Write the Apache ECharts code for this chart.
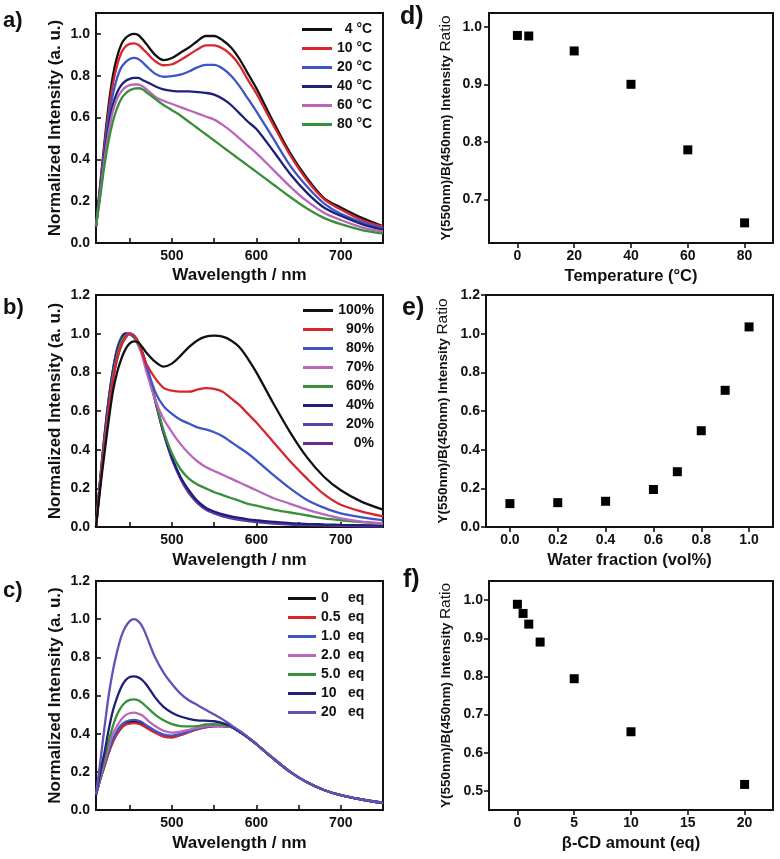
<!DOCTYPE html>
<html>
<head>
<meta charset="utf-8">
<script src="https://cdn.jsdelivr.net/npm/echarts@6/dist/echarts.min.js"></script>
<style>
html,body{margin:0;padding:0;background:#fff;}
#chart{width:780px;height:859px;}
</style>
</head>
<body>
<div id="chart"></div>
<script>
// ---------- data ----------
const wave = [410,415,420,425,430,435,440,445,450,455,460,465,470,480,490,500,510,520,530,540,550,560,570,580,590,600,620,640,660,680,700,725,750];

// panel a: temperature series
const tempNames = ['\u20074 \u00B0C','10 \u00B0C','20 \u00B0C','40 \u00B0C','60 \u00B0C','80 \u00B0C'];
const a4  = [.08,.28,.48,.66,.80,.89,.95,.98,.995,1.0,.995,.975,.95, .90,.875,.885,.91,.935,.965,.99,.99,.97,.935,.88,.81,.74, .58,.43,.31,.215,.17, .12,.08];
const a10 = [.08,.27,.46,.63,.76,.85,.91,.94,.952,.955,.948,.93,.91, .87,.85,.855,.875,.90,.925,.945,.945,.93,.90,.85,.78,.715, .565,.42,.30,.21,.16, .11,.078];
const a20 = [.08,.26,.44,.60,.71,.79,.84,.865,.88,.885,.88,.865,.845, .81,.795,.798,.805,.82,.84,.852,.852,.835,.80,.75,.69,.63, .50,.37,.27,.19,.14, .10,.07];
const a40 = [.08,.25,.42,.56,.66,.72,.755,.775,.785,.79,.79,.78,.77, .75,.735,.728,.725,.725,.722,.718,.71,.69,.66,.62,.58,.545, .44,.33,.24,.17,.13, .09,.062];
const a60 = [.08,.24,.40,.53,.63,.69,.725,.745,.755,.758,.758,.75,.735, .70,.68,.665,.65,.635,.62,.605,.59,.565,.535,.50,.465,.43, .35,.27,.20,.145,.11, .075,.055];
const a80 = [.08,.22,.37,.49,.58,.645,.69,.715,.73,.738,.74,.735,.72, .69,.66,.635,.61,.58,.55,.52,.49,.46,.43,.40,.37,.34, .28,.22,.165,.12,.09, .062,.045];

// panel b: water fraction series
const waterNames = ['100%','90%','80%','70%','60%','40%','20%','0%'];
const b100 = [0,.20,.38,.55,.70,.80,.87,.92,.95,.96,.955,.93,.90, .855,.83,.845,.885,.93,.965,.985,.99,.985,.965,.93,.87,.80, .64,.49,.36,.26,.19, .13,.09];
const b90  = [0,.22,.42,.60,.76,.87,.94,.98,1.0,.99,.96,.90,.84, .77,.72,.705,.70,.70,.71,.718,.715,.70,.665,.63,.585,.54, .44,.34,.25,.17,.115, .08,.055];
const b80  = [0,.22,.42,.60,.76,.87,.94,.98,1.0,.99,.955,.90,.83, .70,.625,.585,.555,.535,.515,.505,.49,.47,.44,.41,.38,.345, .27,.20,.14,.10,.07, .05,.035];
const b70  = [0,.22,.42,.60,.76,.87,.94,.98,1.0,.99,.95,.88,.80, .66,.56,.49,.43,.38,.34,.31,.29,.27,.25,.23,.21,.19, .15,.12,.09,.065,.045, .028,.018];
const b60  = [0,.23,.44,.62,.78,.89,.96,.99,1.0,.985,.94,.89,.82, .66,.50,.38,.30,.25,.22,.20,.18,.165,.15,.135,.12,.11, .09,.075,.06,.045,.035, .025,.018];
const b40  = [0,.24,.46,.65,.80,.91,.97,1.0,1.0,.985,.95,.90,.83, .66,.49,.36,.26,.19,.135,.10,.08,.065,.055,.047,.04,.035, .027,.02,.016,.013,.011, .009,.007];
const b20  = [0,.25,.47,.66,.81,.92,.98,1.0,.998,.983,.95,.90,.83, .66,.49,.355,.255,.18,.13,.095,.073,.058,.048,.04,.034,.029, .022,.016,.012,.01,.008, .006,.005];
const b0   = [0,.25,.47,.66,.81,.92,.98,1.0,.997,.98,.948,.898,.828, .655,.485,.35,.25,.175,.125,.09,.07,.055,.045,.037,.03,.025, .018,.013,.01,.008,.006, .004,.003];

// panel c: beta-CD series
const cdNames = ['0 eq','0.5 eq','1.0 eq','2.0 eq','5.0 eq','10 eq','20 eq'];
const c0   = [.08,.16,.23,.30,.36,.40,.43,.45,.46,.462,.46,.45,.435, .41,.39,.385,.395,.41,.425,.435,.44,.44,.435,.41,.38,.345, .27,.20,.145,.105,.078, .055,.037];
const c05  = [.08,.16,.23,.30,.355,.40,.43,.447,.453,.455,.452,.443,.43, .405,.385,.38,.392,.408,.423,.433,.44,.44,.435,.41,.38,.345, .27,.20,.145,.105,.078, .055,.037];
const c1   = [.08,.16,.24,.31,.37,.415,.445,.462,.47,.472,.468,.458,.443, .415,.395,.39,.398,.412,.425,.435,.44,.44,.435,.41,.38,.345, .27,.20,.145,.105,.078, .055,.037];
const c2   = [.08,.17,.25,.33,.40,.44,.475,.497,.507,.51,.505,.495,.475, .44,.415,.405,.41,.42,.43,.44,.442,.44,.435,.41,.38,.345, .27,.20,.145,.105,.078, .055,.037];
const c5   = [.08,.18,.27,.36,.44,.50,.54,.565,.577,.58,.575,.56,.54, .50,.47,.45,.44,.438,.44,.448,.45,.445,.435,.41,.38,.345, .27,.20,.145,.105,.078, .055,.037];
const c10  = [.08,.20,.30,.42,.52,.59,.645,.68,.697,.70,.695,.68,.655, .59,.54,.51,.49,.478,.47,.468,.465,.455,.44,.41,.38,.345, .27,.20,.145,.105,.078, .055,.037];
const c20  = [.08,.25,.43,.60,.73,.83,.91,.96,.99,1.0,.99,.96,.91, .80,.72,.66,.61,.575,.55,.525,.50,.475,.445,.415,.382,.345, .27,.20,.145,.105,.078, .055,.037];

// panels d, e, f: ratios
const tempX = [0,4,20,40,60,80];
const tempRatio = [0.985,0.984,0.958,0.900,0.786,0.659];
const waterX = [0,0.2,0.4,0.6,0.7,0.8,0.9,1.0];
const waterRatio = [0.121,0.126,0.133,0.194,0.286,0.498,0.707,1.035];
const cdX = [0,0.5,1,2,5,10,20];
const cdRatio = [0.989,0.965,0.937,0.890,0.794,0.655,0.517];

// tick values
const specTicks = [450,500,550,600,650,700];
const specLabels = [500,600,700];
const aYTicks = [0,0.2,0.4,0.6,0.8,1.0];
const bcYTicks = [0,0.2,0.4,0.6,0.8,1.0,1.2];
const dXTicks = [0,20,40,60,80];
const dYTicks = [0.7,0.8,0.9,1.0];
const eXTicks = [0,0.2,0.4,0.6,0.8,1.0];
const fXTicks = [0,5,10,15,20];
const fYTicks = [0.5,0.6,0.7,0.8,0.9,1.0];

// ---------- styling ----------
const FONT = "'Liberation Sans', Arial, sans-serif";
const C = {black:'#111111', red:'#d9262c', blue:'#3d55c6', navy:'#1e2078', pink:'#bb66bb', green:'#3a8f3a', violet:'#5b40b4', purple:'#6a2c8e', lav:'#6650b8'};

const grids = [
  {left:96, top:13, width:287, height:230},
  {left:96, top:295, width:287, height:232},
  {left:96, top:581, width:287, height:229},
  {left:489, top:13, width:284, height:230},
  {left:486, top:295, width:287, height:232},
  {left:489, top:581, width:284, height:229}
].map(g => Object.assign({show:true, borderColor:'#111', borderWidth:2, backgroundColor:'transparent'}, g));

const lblStyle = {color:'#111', fontFamily:FONT, fontWeight:'bold', fontSize:14};
const nameStyleA = {color:'#111', fontFamily:FONT, fontWeight:'bold', fontSize:17};
const nameStyleD = {color:'#111', fontFamily:FONT, fontWeight:'bold', fontSize:16.5};

function xAx(idx, min, max, ticks, labels, name, inside, fmt, nameGap, nameStyle) {
  return {
    type:'value', gridIndex:idx, min, max, name, nameLocation:'middle', nameGap,
    nameTextStyle:nameStyle,
    axisLine:{show:false, onZero:false}, splitLine:{show:false},
    axisTick:{show:true, inside, length:5, customValues:ticks, lineStyle:{color:'#111', width:1.6}},
    axisLabel:Object.assign({customValues:labels, margin:6, formatter:fmt}, lblStyle)
  };
}
function yAx(idx, min, max, ticks, name, inside, fmt, nameGap, nameStyle, margin) {
  return {
    type:'value', gridIndex:idx, min, max, name, nameLocation:'middle', nameGap, nameRotate:90,
    nameTextStyle:nameStyle,
    axisLine:{show:false, onZero:false}, splitLine:{show:false},
    axisTick:{show:true, inside, length:5, customValues:ticks, lineStyle:{color:'#111', width:1.6}},
    axisLabel:Object.assign({customValues:ticks, margin, formatter:fmt}, lblStyle)
  };
}
const f1 = v => Number(v).toFixed(1);
const f0 = v => String(Math.round(v));

const ratioName = '{b|Y(550nm)/B(450nm) Intensity }{r|Ratio}';
const ratioStyle = {color:'#111', rich:{
  b:{fontFamily:FONT, fontWeight:'bold', fontSize:13.5, color:'#111'},
  r:{fontFamily:FONT, fontWeight:'normal', fontSize:15.5, color:'#111'}
}};

const xAxes = [
  xAx(0, 410, 750, specTicks, specLabels, 'Wavelength / nm', true, f0, 24, nameStyleA),
  xAx(1, 410, 750, specTicks, specLabels, 'Wavelength / nm', true, f0, 25, nameStyleA),
  xAx(2, 410, 750, specTicks, specLabels, 'Wavelength / nm', true, f0, 25, nameStyleA),
  xAx(3, -10, 90, dXTicks, dXTicks, 'Temperature (\u00B0C)', false, f0, 25, nameStyleD),
  xAx(4, -0.1, 1.1, eXTicks, eXTicks, 'Water fraction (vol%)', false, f1, 25, nameStyleD),
  xAx(5, -2.5, 22.5, fXTicks, fXTicks, '\u03B2-CD amount (eq)', false, f0, 25, nameStyleD)
];
const yAxes = [
  yAx(0, 0, 1.1, aYTicks, 'Normalized Intensity (a. u.)', true, f1, 32, nameStyleA, 6),
  yAx(1, 0, 1.2, bcYTicks, 'Normalized Intensity (a. u.)', true, f1, 32, nameStyleA, 6),
  yAx(2, 0, 1.2, bcYTicks, 'Normalized Intensity (a. u.)', true, f1, 32, nameStyleA, 6),
  yAx(3, 0.624, 1.024, dYTicks, ratioName, false, f1, 35, ratioStyle, 7),
  yAx(4, 0, 1.2, bcYTicks, ratioName, false, f1, 35, ratioStyle, 6),
  yAx(5, 0.45, 1.05, fYTicks, ratioName, false, f1, 35, ratioStyle, 6)
];

function line(name, vals, color, idx) {
  return {
    type:'line', name, xAxisIndex:idx, yAxisIndex:idx,
    data: wave.map((w,i) => [w, vals[i]]),
    showSymbol:false, symbol:'none', smooth:0.3, animation:false,
    lineStyle:{width:2.3, color}, itemStyle:{color}
  };
}
function scatter(xs, ys, idx) {
  return {
    type:'scatter', xAxisIndex:idx, yAxisIndex:idx, animation:false,
    data: xs.map((x,i) => [x, ys[i]]),
    symbol:'rect', symbolSize:9, itemStyle:{color:'#000', opacity:1}
  };
}

const series = [
  line(tempNames[0], a4, C.black, 0),
  line(tempNames[1], a10, C.red, 0),
  line(tempNames[2], a20, C.blue, 0),
  line(tempNames[3], a40, C.navy, 0),
  line(tempNames[4], a60, C.pink, 0),
  line(tempNames[5], a80, C.green, 0),

  line(waterNames[7], b0, C.purple, 1),
  line(waterNames[6], b20, C.violet, 1),
  line(waterNames[5], b40, C.navy, 1),
  line(waterNames[4], b60, C.green, 1),
  line(waterNames[3], b70, C.pink, 1),
  line(waterNames[2], b80, C.blue, 1),
  line(waterNames[1], b90, C.red, 1),
  line(waterNames[0], b100, C.black, 1),

  line(cdNames[0], c0, C.black, 2),
  line(cdNames[1], c05, C.red, 2),
  line(cdNames[2], c1, C.blue, 2),
  line(cdNames[3], c2, C.pink, 2),
  line(cdNames[4], c5, C.green, 2),
  line(cdNames[5], c10, C.navy, 2),
  line(cdNames[6], c20, C.lav, 2),

  scatter(tempX, tempRatio, 3),
  scatter(waterX, waterRatio, 4),
  scatter(cdX, cdRatio, 5)
];

const legTxt = {color:'#111', fontFamily:FONT, fontWeight:'bold', fontSize:14, lineHeight:19};
const legends = [
  {data:tempNames, orient:'vertical', left:302, top:20, padding:0, icon:'rect', itemWidth:30, itemHeight:3, itemGap:0,
   selectedMode:false, textStyle:legTxt},
  {data:waterNames, orient:'vertical', left:303, top:301, padding:0, icon:'rect', itemWidth:30, itemHeight:3, itemGap:0,
   selectedMode:false,
   formatter: n => '{r|' + n + '}',
   textStyle:Object.assign({}, legTxt, {rich:{r:{width:36, align:'right', fontFamily:FONT, fontWeight:'bold', fontSize:14, color:'#111', lineHeight:19}}})},
  {data:cdNames, orient:'vertical', left:288, top:589, padding:0, icon:'rect', itemWidth:28, itemHeight:3, itemGap:0,
   selectedMode:false,
   formatter: n => { const p = n.split(' '); return '{n|' + p[0] + '}{e|' + p[1] + '}'; },
   textStyle:Object.assign({}, legTxt, {rich:{
     n:{width:27, align:'left', fontFamily:FONT, fontWeight:'bold', fontSize:14, color:'#111', lineHeight:19},
     e:{fontFamily:FONT, fontWeight:'bold', fontSize:14, color:'#111', lineHeight:19}}})}
];

function letter(t, x, y, size) {
  return {type:'text', left:x, top:y, style:{text:t, fill:'#111', font:'bold ' + size + 'px ' + FONT}};
}

const chart = echarts.init(document.getElementById('chart'), null, {renderer:'canvas'});
chart.setOption({
  backgroundColor:'#ffffff',
  animation:false,
  grid:grids,
  xAxis:xAxes,
  yAxis:yAxes,
  legend:legends,
  series,
  graphic:[
    letter('a)', 3, 10, 22),
    letter('b)', 3, 297, 22),
    letter('c)', 3, 580, 22),
    letter('d)', 400, 5, 25),
    letter('e)', 402, 296, 25),
    letter('f)', 403, 568, 25)
  ]
});
</script>
</body>
</html>
